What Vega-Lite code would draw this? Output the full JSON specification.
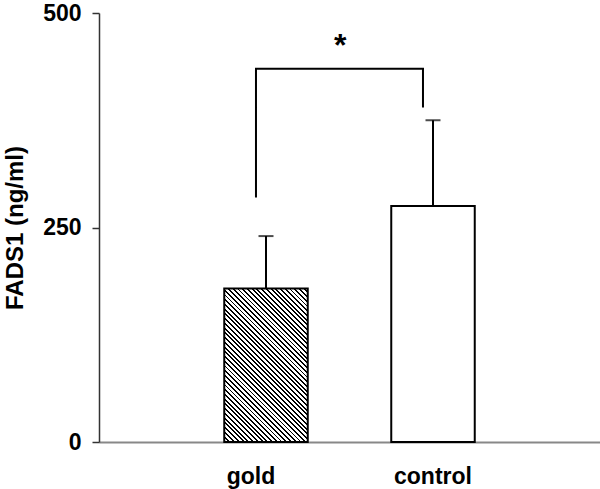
{
  "$schema": "https://vega.github.io/schema/vega-lite/v6.json",
  "width": 501,
  "height": 429,
  "autosize": {"type": "none"},
  "padding": {"left": 99, "top": 13, "right": 0, "bottom": 47},
  "config": {"view": {"stroke": null}, "font": "Liberation Sans"},
  "datasets": {
    "bars": [
      {"group": "gold", "mean": 179, "upper": 240},
      {"group": "control", "mean": 275, "upper": 375}
    ],
    "bracket": [
      {"group": "gold", "y": 285, "order": 1},
      {"group": "gold", "y": 435, "order": 2},
      {"group": "control", "y": 435, "order": 3},
      {"group": "control", "y": 390, "order": 4}
    ],
    "sig": [{"group": "gold", "y": 450, "label": "*"}]
  },
  "encoding": {
    "x": {
      "field": "group",
      "type": "nominal",
      "sort": ["gold", "control"],
      "scale": {"domain": ["gold", "control"], "paddingInner": 0.5, "paddingOuter": 0.75},
      "axis": {
        "title": null,
        "ticks": false,
        "tickSize": 0,
        "labelAngle": 0,
        "labelFontSize": 23,
        "labelFontWeight": "bold",
        "labelColor": "#000",
        "labelBaseline": "alphabetic",
        "labelPadding": 41,
        "labelOffset": {"condition": {"test": "datum.value === 'gold'", "value": -15}, "value": 0},
        "domainColor": "#888",
        "domainWidth": 2
      }
    }
  },
  "layer": [
    {
      "data": {"name": "bars"},
      "transform": [{"filter": "datum.group === 'gold'"}],
      "mark": {
        "type": "bar",
        "stroke": "#000",
        "strokeWidth": 2,
        "fill": {
          "gradient": "linear",
          "x1": 0, "y1": 1, "x2": 0.647, "y2": -0.19,
          "stops": [
            {"offset":0,"color":"#000"},{"offset":0.008,"color":"#000"},{"offset":0.008,"color":"#fff"},{"offset":0.02,"color":"#fff"},
            {"offset":0.02,"color":"#000"},{"offset":0.028,"color":"#000"},{"offset":0.028,"color":"#fff"},{"offset":0.04,"color":"#fff"},
            {"offset":0.04,"color":"#000"},{"offset":0.048,"color":"#000"},{"offset":0.048,"color":"#fff"},{"offset":0.06,"color":"#fff"},
            {"offset":0.06,"color":"#000"},{"offset":0.068,"color":"#000"},{"offset":0.068,"color":"#fff"},{"offset":0.08,"color":"#fff"},
            {"offset":0.08,"color":"#000"},{"offset":0.088,"color":"#000"},{"offset":0.088,"color":"#fff"},{"offset":0.1,"color":"#fff"},
            {"offset":0.1,"color":"#000"},{"offset":0.108,"color":"#000"},{"offset":0.108,"color":"#fff"},{"offset":0.12,"color":"#fff"},
            {"offset":0.12,"color":"#000"},{"offset":0.128,"color":"#000"},{"offset":0.128,"color":"#fff"},{"offset":0.14,"color":"#fff"},
            {"offset":0.14,"color":"#000"},{"offset":0.148,"color":"#000"},{"offset":0.148,"color":"#fff"},{"offset":0.16,"color":"#fff"},
            {"offset":0.16,"color":"#000"},{"offset":0.168,"color":"#000"},{"offset":0.168,"color":"#fff"},{"offset":0.18,"color":"#fff"},
            {"offset":0.18,"color":"#000"},{"offset":0.188,"color":"#000"},{"offset":0.188,"color":"#fff"},{"offset":0.2,"color":"#fff"},
            {"offset":0.2,"color":"#000"},{"offset":0.208,"color":"#000"},{"offset":0.208,"color":"#fff"},{"offset":0.22,"color":"#fff"},
            {"offset":0.22,"color":"#000"},{"offset":0.228,"color":"#000"},{"offset":0.228,"color":"#fff"},{"offset":0.24,"color":"#fff"},
            {"offset":0.24,"color":"#000"},{"offset":0.248,"color":"#000"},{"offset":0.248,"color":"#fff"},{"offset":0.26,"color":"#fff"},
            {"offset":0.26,"color":"#000"},{"offset":0.268,"color":"#000"},{"offset":0.268,"color":"#fff"},{"offset":0.28,"color":"#fff"},
            {"offset":0.28,"color":"#000"},{"offset":0.288,"color":"#000"},{"offset":0.288,"color":"#fff"},{"offset":0.3,"color":"#fff"},
            {"offset":0.3,"color":"#000"},{"offset":0.308,"color":"#000"},{"offset":0.308,"color":"#fff"},{"offset":0.32,"color":"#fff"},
            {"offset":0.32,"color":"#000"},{"offset":0.328,"color":"#000"},{"offset":0.328,"color":"#fff"},{"offset":0.34,"color":"#fff"},
            {"offset":0.34,"color":"#000"},{"offset":0.348,"color":"#000"},{"offset":0.348,"color":"#fff"},{"offset":0.36,"color":"#fff"},
            {"offset":0.36,"color":"#000"},{"offset":0.368,"color":"#000"},{"offset":0.368,"color":"#fff"},{"offset":0.38,"color":"#fff"},
            {"offset":0.38,"color":"#000"},{"offset":0.388,"color":"#000"},{"offset":0.388,"color":"#fff"},{"offset":0.4,"color":"#fff"},
            {"offset":0.4,"color":"#000"},{"offset":0.408,"color":"#000"},{"offset":0.408,"color":"#fff"},{"offset":0.42,"color":"#fff"},
            {"offset":0.42,"color":"#000"},{"offset":0.428,"color":"#000"},{"offset":0.428,"color":"#fff"},{"offset":0.44,"color":"#fff"},
            {"offset":0.44,"color":"#000"},{"offset":0.448,"color":"#000"},{"offset":0.448,"color":"#fff"},{"offset":0.46,"color":"#fff"},
            {"offset":0.46,"color":"#000"},{"offset":0.468,"color":"#000"},{"offset":0.468,"color":"#fff"},{"offset":0.48,"color":"#fff"},
            {"offset":0.48,"color":"#000"},{"offset":0.488,"color":"#000"},{"offset":0.488,"color":"#fff"},{"offset":0.5,"color":"#fff"},
            {"offset":0.5,"color":"#000"},{"offset":0.508,"color":"#000"},{"offset":0.508,"color":"#fff"},{"offset":0.52,"color":"#fff"},
            {"offset":0.52,"color":"#000"},{"offset":0.528,"color":"#000"},{"offset":0.528,"color":"#fff"},{"offset":0.54,"color":"#fff"},
            {"offset":0.54,"color":"#000"},{"offset":0.548,"color":"#000"},{"offset":0.548,"color":"#fff"},{"offset":0.56,"color":"#fff"},
            {"offset":0.56,"color":"#000"},{"offset":0.568,"color":"#000"},{"offset":0.568,"color":"#fff"},{"offset":0.58,"color":"#fff"},
            {"offset":0.58,"color":"#000"},{"offset":0.588,"color":"#000"},{"offset":0.588,"color":"#fff"},{"offset":0.6,"color":"#fff"},
            {"offset":0.6,"color":"#000"},{"offset":0.608,"color":"#000"},{"offset":0.608,"color":"#fff"},{"offset":0.62,"color":"#fff"},
            {"offset":0.62,"color":"#000"},{"offset":0.628,"color":"#000"},{"offset":0.628,"color":"#fff"},{"offset":0.64,"color":"#fff"},
            {"offset":0.64,"color":"#000"},{"offset":0.648,"color":"#000"},{"offset":0.648,"color":"#fff"},{"offset":0.66,"color":"#fff"},
            {"offset":0.66,"color":"#000"},{"offset":0.668,"color":"#000"},{"offset":0.668,"color":"#fff"},{"offset":0.68,"color":"#fff"},
            {"offset":0.68,"color":"#000"},{"offset":0.688,"color":"#000"},{"offset":0.688,"color":"#fff"},{"offset":0.7,"color":"#fff"},
            {"offset":0.7,"color":"#000"},{"offset":0.708,"color":"#000"},{"offset":0.708,"color":"#fff"},{"offset":0.72,"color":"#fff"},
            {"offset":0.72,"color":"#000"},{"offset":0.728,"color":"#000"},{"offset":0.728,"color":"#fff"},{"offset":0.74,"color":"#fff"},
            {"offset":0.74,"color":"#000"},{"offset":0.748,"color":"#000"},{"offset":0.748,"color":"#fff"},{"offset":0.76,"color":"#fff"},
            {"offset":0.76,"color":"#000"},{"offset":0.768,"color":"#000"},{"offset":0.768,"color":"#fff"},{"offset":0.78,"color":"#fff"},
            {"offset":0.78,"color":"#000"},{"offset":0.788,"color":"#000"},{"offset":0.788,"color":"#fff"},{"offset":0.8,"color":"#fff"},
            {"offset":0.8,"color":"#000"},{"offset":0.808,"color":"#000"},{"offset":0.808,"color":"#fff"},{"offset":0.82,"color":"#fff"},
            {"offset":0.82,"color":"#000"},{"offset":0.828,"color":"#000"},{"offset":0.828,"color":"#fff"},{"offset":0.84,"color":"#fff"},
            {"offset":0.84,"color":"#000"},{"offset":0.848,"color":"#000"},{"offset":0.848,"color":"#fff"},{"offset":0.86,"color":"#fff"},
            {"offset":0.86,"color":"#000"},{"offset":0.868,"color":"#000"},{"offset":0.868,"color":"#fff"},{"offset":0.88,"color":"#fff"},
            {"offset":0.88,"color":"#000"},{"offset":0.888,"color":"#000"},{"offset":0.888,"color":"#fff"},{"offset":0.9,"color":"#fff"},
            {"offset":0.9,"color":"#000"},{"offset":0.908,"color":"#000"},{"offset":0.908,"color":"#fff"},{"offset":0.92,"color":"#fff"},
            {"offset":0.92,"color":"#000"},{"offset":0.928,"color":"#000"},{"offset":0.928,"color":"#fff"},{"offset":0.94,"color":"#fff"},
            {"offset":0.94,"color":"#000"},{"offset":0.948,"color":"#000"},{"offset":0.948,"color":"#fff"},{"offset":0.96,"color":"#fff"},
            {"offset":0.96,"color":"#000"},{"offset":0.968,"color":"#000"},{"offset":0.968,"color":"#fff"},{"offset":0.98,"color":"#fff"},
            {"offset":0.98,"color":"#000"},{"offset":0.988,"color":"#000"},{"offset":0.988,"color":"#fff"},{"offset":1,"color":"#fff"}
          ]
        }
      },
      "encoding": {
        "y": {
          "field": "mean",
          "type": "quantitative",
          "scale": {"domain": [0, 500], "nice": false},
          "axis": {
            "values": [0, 250, 500],
            "grid": false,
            "tickSize": 7,
            "tickColor": "#333",
            "tickWidth": 1.5,
            "domainColor": "#333",
            "domainWidth": 1.5,
            "labelPadding": 11,
            "labelFontSize": 23,
            "labelFontWeight": "bold",
            "labelColor": "#000",
            "title": "FADS1 (ng/ml)",
            "titleFontSize": 24,
            "titleFontWeight": "bold",
            "titleColor": "#000",
            "titlePadding": 15
          }
        }
      }
    },
    {
      "data": {"name": "bars"},
      "transform": [{"filter": "datum.group === 'control'"}],
      "mark": {"type": "bar", "stroke": "#000", "strokeWidth": 2, "fill": "#fff"},
      "encoding": {
        "y": {"field": "mean", "type": "quantitative"}
      }
    },
    {
      "data": {"name": "bars"},
      "mark": {"type": "rule", "color": "#000", "strokeWidth": 2},
      "encoding": {
        "y": {"field": "mean", "type": "quantitative"},
        "y2": {"field": "upper"}
      }
    },
    {
      "data": {"name": "bars"},
      "mark": {"type": "tick", "color": "#000", "thickness": 2, "size": 15},
      "encoding": {
        "y": {"field": "upper", "type": "quantitative"}
      }
    },
    {
      "data": {"name": "bracket"},
      "mark": {"type": "line", "color": "#000", "strokeWidth": 2},
      "encoding": {
        "x": {"field": "group", "type": "nominal", "sort": ["gold", "control"], "bandPosition": 0.38},
        "y": {"field": "y", "type": "quantitative"},
        "order": {"field": "order", "type": "quantitative"}
      }
    },
    {
      "data": {"name": "sig"},
      "mark": {"type": "text", "fontSize": 32, "fontWeight": "bold", "baseline": "alphabetic", "align": "center", "color": "#000"},
      "encoding": {
        "x": {"field": "group", "type": "nominal", "sort": ["gold", "control"], "bandPosition": 1.39},
        "y": {"field": "y", "type": "quantitative"},
        "text": {"field": "label"}
      }
    }
  ]
}
